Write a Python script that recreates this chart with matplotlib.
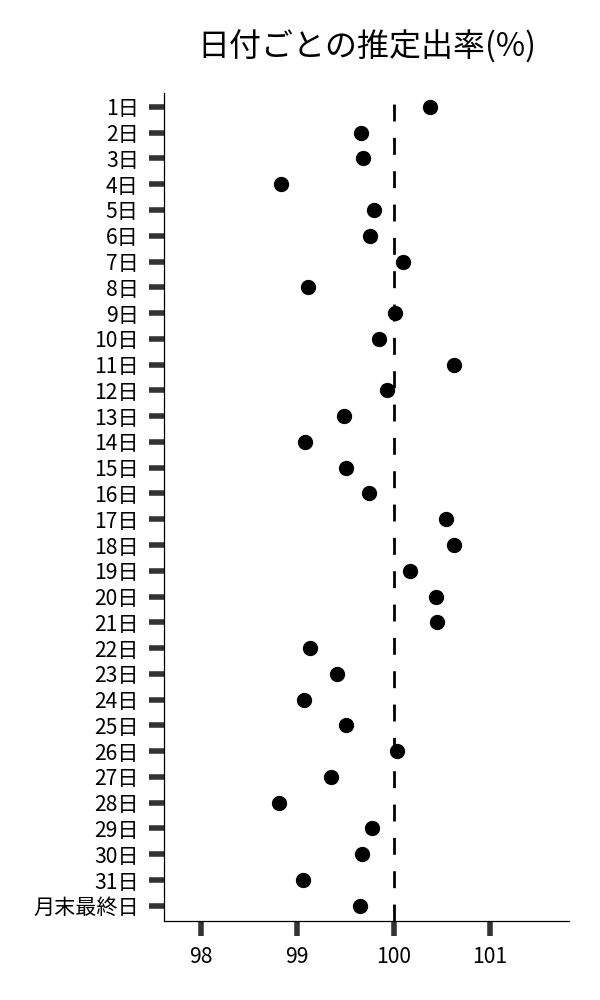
import numpy as np
import matplotlib
matplotlib.use("Agg")
import matplotlib.pyplot as plt

plt.rcParams['font.family'] = ['Noto Sans CJK JP', 'DejaVu Sans']

days = [str(d) + '日' for d in range(1, 32)] + ['月末最終日']
rates = [100.38, 99.66, 99.68, 98.83, 99.80, 99.76, 100.10, 99.11, 100.02, 99.85,
         100.63, 99.93, 99.49, 99.08, 99.51, 99.74, 100.54, 100.63, 100.17, 100.44,
         100.45, 99.13, 99.41, 99.07, 99.51, 100.04, 99.35, 98.81, 99.78, 99.67,
         99.06, 99.65]
x_ticks = [98, 99, 100, 101]
ref_rate = 100

fig = plt.figure(figsize=(6, 10), dpi=100)
ax = fig.add_axes([0.274, 0.079, 0.674, 0.828])

y = np.arange(len(days))
ax.scatter(rates, y, s=100, color='black', zorder=3)
ax.axvline(ref_rate, color='black', linewidth=2, linestyle=(0, (6.1, 5.9)), zorder=2)

ax.set_yticks(y)
ax.set_yticklabels(days)
ax.set_xticks(x_ticks)
ax.set_xlim(97.62, 101.82)
ax.set_ylim(31.59, -0.54)

ax.spines['right'].set_color('none')
ax.spines['top'].set_color('none')
ax.spines['left'].set_linewidth(0.9)
ax.spines['bottom'].set_linewidth(0.9)
ax.tick_params(axis='both', length=11, width=4, color='#333333', labelsize=15.2)
ax.tick_params(axis='y', pad=7.5)
ax.tick_params(axis='x', pad=7)

ax.set_title('日付ごとの推定出率(%)', fontsize=23, pad=26)

plt.savefig('out.png')
